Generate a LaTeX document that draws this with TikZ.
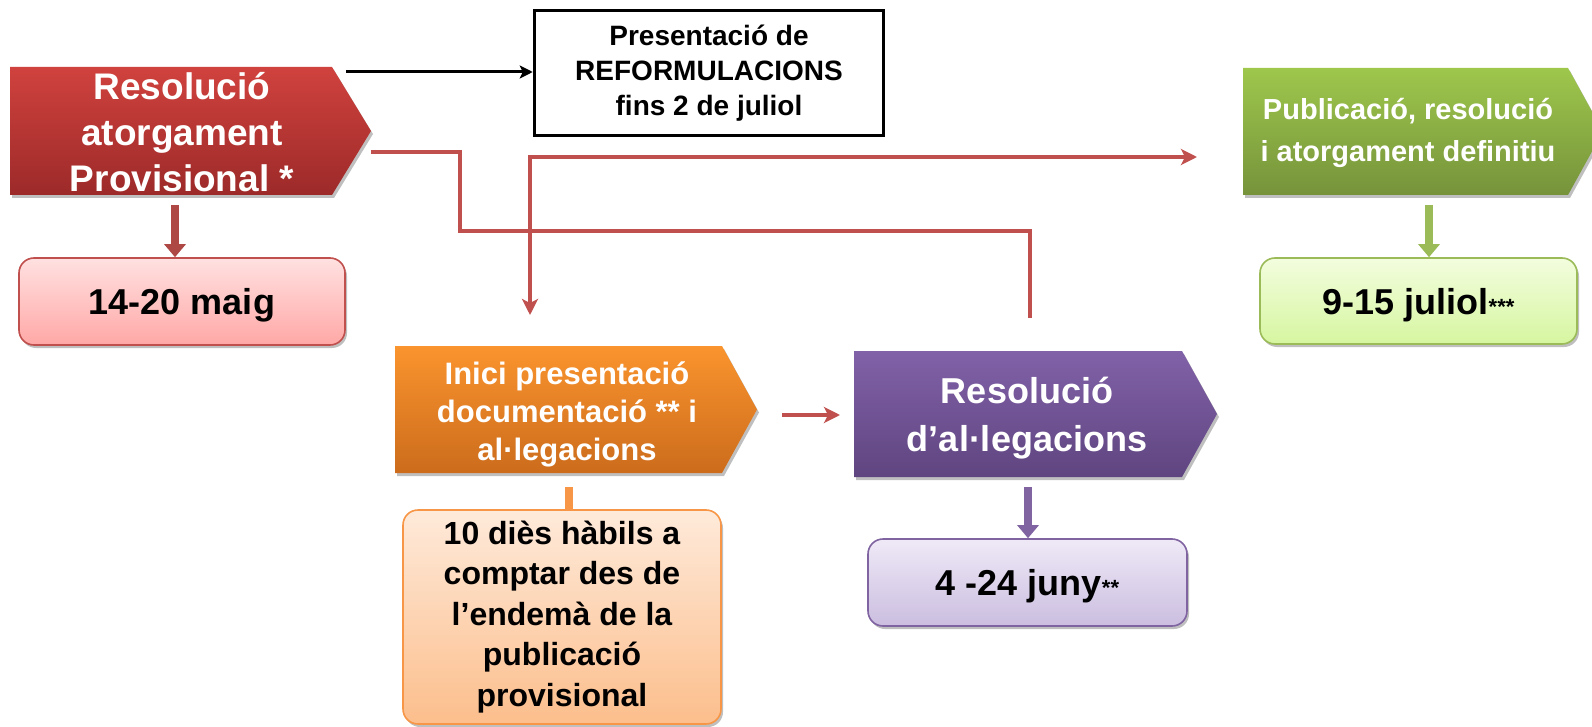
\documentclass[tikz,border=0pt]{standalone}
\usepackage{fontspec}
\setmainfont{Liberation Sans}
\usetikzlibrary{arrows.meta,shadows}

\definecolor{redtop}{RGB}{208,66,62}
\definecolor{redbot}{RGB}{156,42,41}
\definecolor{pinktop}{RGB}{255,225,225}
\definecolor{pinkbot}{RGB}{255,168,166}
\definecolor{accred}{RGB}{192,80,77}
\definecolor{greentop}{RGB}{158,199,76}
\definecolor{greenbot}{RGB}{118,147,59}
\definecolor{lgreentop}{RGB}{243,253,222}
\definecolor{lgreenbot}{RGB}{214,246,160}
\definecolor{accgreen}{RGB}{155,187,89}
\definecolor{orangetop}{RGB}{250,148,46}
\definecolor{orangebot}{RGB}{204,108,28}
\definecolor{peachtop}{RGB}{254,234,218}
\definecolor{peachbot}{RGB}{252,190,140}
\definecolor{accorange}{RGB}{247,150,70}
\definecolor{purpletop}{RGB}{129,97,168}
\definecolor{purplebot}{RGB}{95,69,128}
\definecolor{lilactop}{RGB}{239,233,247}
\definecolor{lilacbot}{RGB}{203,190,224}
\definecolor{accpurple}{RGB}{128,100,162}

\tikzset{
    softshadow/.style={drop shadow={shadow xshift=2pt, shadow yshift=-3pt, opacity=0.25, fill=black}},
    titletext/.style={text=white, font=\bfseries, align=center, inner sep=0pt},
    datebox/.style={draw, line width=1.6pt, rounded corners=15pt, align=center,
        font=\bfseries\fontsize{36}{43}\selectfont, softshadow},
    dateline/.style={datebox, text depth=0pt},
    link/.style={accred, line width=4pt},
    linktip/.style={-{Stealth[length=16pt,width=16pt,inset=4pt]}},
    downarrow/.style={line width=8pt, -{Triangle[width=21pt,length=13pt]}},
}

\begin{document}
\begin{tikzpicture}[x=1pt,y=-1pt]
    \useasboundingbox (0,0) rectangle (1592,727);

    % Resolucio atorgament provisional
    \shade[top color=redtop, bottom color=redbot, softshadow]
        (10,67) -- (332,67) -- (371,131) -- (332,195) -- (10,195) -- cycle;
    \node[titletext, font=\bfseries\fontsize{37}{46}\selectfont] (prov) at (182,132)
        {Resolució\\atorgament\\Provisional *};
    \node[dateline, top color=pinktop, bottom color=pinkbot, draw=accred,
        minimum width=326pt, minimum height=87pt] (maig) at (182,301.5) {14-20 maig};
    \coordinate (provfoot) at (175,205);
    \draw[downarrow, accred!90!black] (provfoot) -- (provfoot |- maig.north);

    % reformulacions
    \node[draw, line width=3.5pt, minimum width=349pt, minimum height=125pt, align=center,
        font=\bfseries\fontsize{28}{35}\selectfont] (reform) at (709,73)
        {Presentació de\\REFORMULACIONS\\fins 2 de juliol};
    \coordinate (provtop) at (346,72);
    \draw[line width=3pt, -{Stealth[length=13pt,width=13pt,inset=3pt]}]
        (provtop) -- (provtop -| reform.west);

    % Publicacio i atorgament definitiu
    \shade[top color=greentop, bottom color=greenbot, softshadow]
        (1243,68) -- (1568,68) -- (1603,131.5) -- (1568,195) -- (1243,195) -- cycle;
    \node[titletext, font=\bfseries\fontsize{29}{42}\selectfont] (defin) at (1408,133)
        {Publicació, resolució\\i atorgament definitiu};
    \node[dateline, top color=lgreentop, bottom color=lgreenbot, draw=accgreen,
        minimum width=317pt, minimum height=86pt] (juliol) at (1418.5,301)
        {9-15 juliol{\fontsize{22}{22}\selectfont***}};
    \coordinate (definfoot) at (1429,205);
    \draw[downarrow, accgreen] (definfoot) -- (definfoot |- juliol.north);

    % Inici presentacio documentacio
    \shade[top color=orangetop, bottom color=orangebot, softshadow]
        (395,346) -- (722,346) -- (757,409.5) -- (722,473) -- (395,473) -- cycle;
    \node[titletext, font=\bfseries\fontsize{31}{38}\selectfont] (inici) at (567,414)
        {Inici presentació\\documentació ** i\\al·legacions};
    \node[datebox, top color=peachtop, bottom color=peachbot, draw=accorange,
        font=\bfseries\fontsize{32}{40.5}\selectfont,
        minimum width=318pt, minimum height=214pt] (dies) at (562,617)
        {10 diès hàbils a\\comptar des de\\l’endemà de la\\publicació\\provisional};
    \coordinate (inicifoot) at (569,487);
    \draw[line width=8pt, accorange] (inicifoot) -- (inicifoot |- dies.north);

    % Resolucio d'al.legacions
    \shade[top color=purpletop, bottom color=purplebot, softshadow]
        (854,351) -- (1182,351) -- (1217,414) -- (1182,477) -- (854,477) -- cycle;
    \node[titletext, font=\bfseries\fontsize{36}{48.5}\selectfont] (alleg) at (1027,418)
        {Resolució\\d’al·legacions};
    \node[dateline, top color=lilactop, bottom color=lilacbot, draw=accpurple,
        minimum width=319pt, minimum height=87pt] (juny) at (1027.5,582.5)
        {4 -24 juny{\fontsize{22}{22}\selectfont**}};
    \coordinate (allegfoot) at (1028,487);
    \draw[downarrow, accpurple] (allegfoot) -- (allegfoot |- juny.north);

    % connectors
    \coordinate (provtail) at (371,152);
    \coordinate (allegstub) at (1030,318);
    \draw[link] (provtail) -- (460,152) -- (460,231) -| (allegstub);

    \coordinate (inicitop) at (530,315);
    \coordinate (definin) at (1197,157);
    \draw[link, {Stealth[length=16pt,width=16pt,inset=4pt]}-{Stealth[length=16pt,width=16pt,inset=4pt]}]
        (inicitop) |- (definin);

    \coordinate (inicitip) at (782,415);
    \coordinate (allegin) at (840,415);
    \draw[link, linktip] (inicitip) -- (allegin);
\end{tikzpicture}
\end{document}
